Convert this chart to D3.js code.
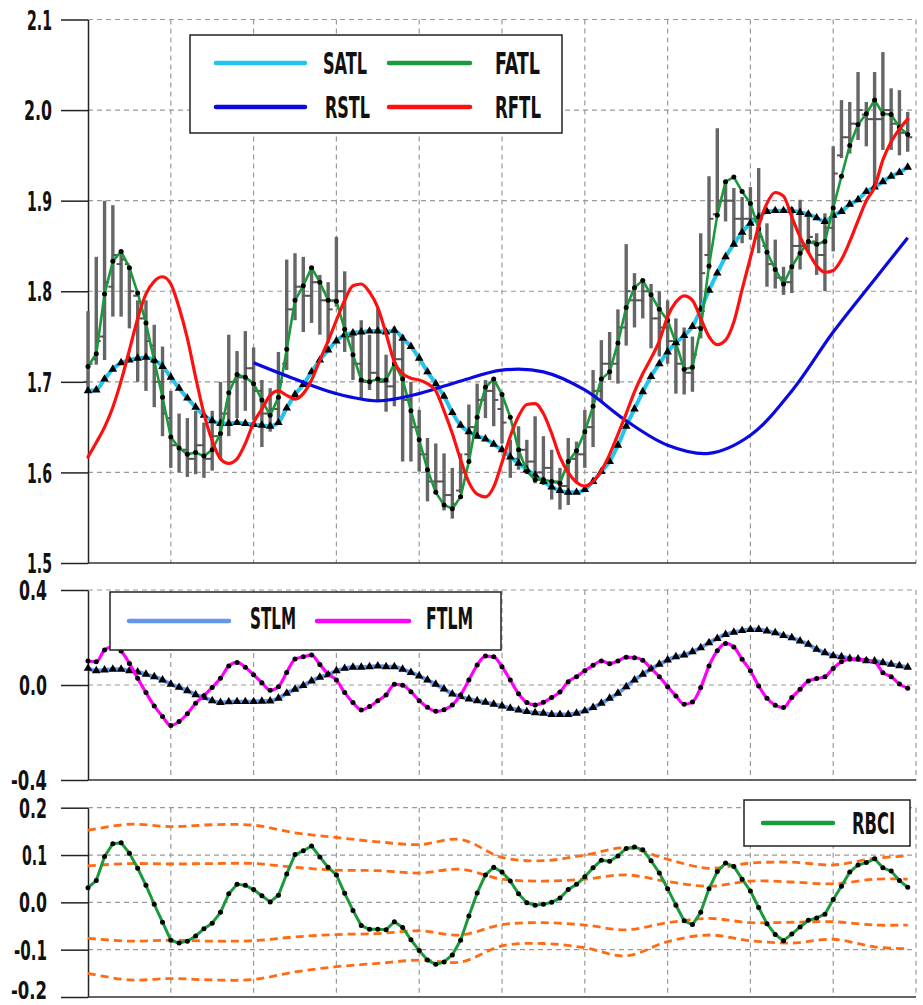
<!DOCTYPE html>
<html><head><meta charset="utf-8">
<script src="https://cdn.jsdelivr.net/npm/d3@7"></script>
<style>body{margin:0;background:#fff}svg{display:block}</style>
</head><body><svg id="c" width="923" height="1005"></svg>
<script>
// ---------- DATA ----------
const N = 100; // bars 0..99
const high = [1.778,1.838,1.900,1.895,1.844,1.825,1.790,1.790,1.763,1.739,1.690,1.665,1.660,1.668,1.655,1.668,1.700,1.752,1.734,1.756,
1.738,1.702,1.693,1.733,1.835,1.842,1.838,1.827,1.818,1.810,1.860,1.822,1.757,1.768,1.752,1.781,1.730,1.761,1.752,1.700,
1.669,1.638,1.632,1.621,1.605,1.621,1.675,1.698,1.702,1.704,1.686,1.636,1.651,1.636,1.662,1.640,1.625,1.605,1.638,1.634,
1.669,1.713,1.746,1.755,1.780,1.852,1.820,1.812,1.808,1.800,1.790,1.770,1.760,1.750,1.864,1.927,1.980,1.923,1.914,1.904,
1.915,1.936,1.875,1.857,1.827,1.893,1.901,1.886,1.864,1.886,1.960,2.011,2.009,2.042,2.009,2.042,2.064,2.024,2.022,1.998];
const low = [1.688,1.719,1.724,1.772,1.772,1.759,1.700,1.690,1.672,1.640,1.605,1.600,1.595,1.598,1.594,1.602,1.615,1.640,1.660,1.668,
1.658,1.628,1.645,1.658,1.713,1.768,1.755,1.765,1.752,1.743,1.783,1.733,1.702,1.680,1.691,1.680,1.667,1.673,1.612,1.612,
1.601,1.568,1.577,1.558,1.549,1.577,1.614,1.640,1.660,1.651,1.632,1.594,1.603,1.601,1.588,1.586,1.570,1.559,1.564,1.588,
1.605,1.628,1.678,1.702,1.698,1.740,1.760,1.770,1.737,1.728,1.720,1.687,1.686,1.689,1.748,1.824,1.882,1.877,1.849,1.853,
1.857,1.842,1.805,1.803,1.796,1.798,1.824,1.842,1.818,1.800,1.844,1.947,1.952,1.967,1.960,1.917,1.956,1.956,1.950,1.954];
const open = [1.700,1.725,1.750,1.805,1.830,1.830,1.795,1.770,1.740,1.700,1.660,1.630,1.625,1.615,1.630,1.615,1.640,1.665,1.700,1.705,
1.715,1.690,1.665,1.670,1.720,1.780,1.805,1.795,1.810,1.790,1.790,1.800,1.750,1.720,1.700,1.710,1.700,1.695,1.725,1.680,
1.650,1.620,1.590,1.590,1.575,1.580,1.620,1.650,1.680,1.690,1.670,1.620,1.615,1.625,1.612,1.600,1.605,1.590,1.585,1.615,
1.620,1.650,1.690,1.720,1.720,1.760,1.790,1.790,1.800,1.770,1.760,1.745,1.720,1.710,1.760,1.840,1.885,1.900,1.900,1.880,
1.880,1.880,1.850,1.830,1.815,1.810,1.850,1.850,1.855,1.840,1.870,1.950,1.970,1.985,1.995,1.990,1.990,2.000,1.985,1.975];
const close = [1.720,1.745,1.810,1.840,1.835,1.800,1.770,1.745,1.700,1.665,1.630,1.625,1.615,1.630,1.615,1.640,1.665,1.700,1.705,1.715,
1.690,1.665,1.670,1.700,1.780,1.805,1.795,1.810,1.790,1.780,1.800,1.750,1.720,1.700,1.710,1.700,1.695,1.725,1.680,1.650,
1.620,1.590,1.590,1.575,1.565,1.600,1.650,1.680,1.690,1.680,1.655,1.615,1.625,1.612,1.600,1.605,1.590,1.585,1.615,1.620,
1.650,1.690,1.720,1.720,1.760,1.800,1.790,1.800,1.770,1.760,1.745,1.720,1.710,1.730,1.820,1.880,1.900,1.900,1.880,1.880,
1.880,1.860,1.830,1.815,1.810,1.850,1.850,1.860,1.840,1.870,1.930,1.970,1.985,2.000,1.990,1.990,2.000,1.985,1.975,1.970];
const fatl = [1.717,1.731,1.797,1.833,1.844,1.826,1.798,1.765,1.723,1.683,1.639,1.627,1.620,1.622,1.618,1.625,1.643,1.688,1.708,1.705,
1.698,1.680,1.663,1.683,1.736,1.790,1.806,1.826,1.810,1.790,1.789,1.758,1.730,1.702,1.700,1.703,1.702,1.720,1.703,1.668,
1.636,1.603,1.578,1.564,1.560,1.573,1.612,1.661,1.694,1.703,1.686,1.661,1.625,1.601,1.592,1.592,1.590,1.588,1.612,1.624,
1.645,1.673,1.703,1.711,1.743,1.782,1.804,1.812,1.796,1.780,1.768,1.743,1.714,1.716,1.759,1.828,1.884,1.921,1.926,1.910,
1.897,1.869,1.843,1.824,1.808,1.827,1.842,1.855,1.852,1.855,1.892,1.927,1.961,1.984,1.996,2.011,1.996,1.995,1.981,1.973];
const satl = [1.690,1.691,1.703,1.714,1.721,1.724,1.726,1.727,1.724,1.717,1.705,1.693,1.682,1.672,1.663,1.657,1.654,1.654,1.655,1.654,
1.653,1.652,1.651,1.655,1.671,1.686,1.697,1.711,1.724,1.735,1.745,1.752,1.754,1.755,1.756,1.756,1.755,1.757,1.748,1.739,
1.726,1.711,1.698,1.684,1.666,1.652,1.645,1.640,1.637,1.631,1.625,1.617,1.610,1.603,1.597,1.590,1.584,1.580,1.578,1.578,
1.581,1.590,1.601,1.612,1.630,1.651,1.670,1.689,1.706,1.720,1.733,1.743,1.751,1.761,1.780,1.801,1.820,1.838,1.852,1.865,
1.875,1.882,1.888,1.889,1.889,1.889,1.887,1.885,1.881,1.877,1.884,1.888,1.896,1.901,1.910,1.915,1.921,1.927,1.931,1.937];
const rftl = [1.617,1.633,1.650,1.672,1.701,1.735,1.770,1.797,1.811,1.816,1.808,1.782,1.748,1.705,1.665,1.635,1.615,1.610,1.615,1.632,
1.655,1.670,1.685,1.690,1.685,1.681,1.687,1.702,1.724,1.745,1.768,1.790,1.806,1.808,1.799,1.782,1.753,1.722,1.709,1.704,
1.702,1.698,1.690,1.668,1.643,1.614,1.589,1.576,1.573,1.584,1.611,1.640,1.662,1.675,1.676,1.665,1.643,1.617,1.600,1.589,
1.585,1.590,1.602,1.620,1.642,1.665,1.689,1.709,1.726,1.745,1.772,1.788,1.795,1.790,1.770,1.750,1.741,1.746,1.766,1.802,
1.837,1.872,1.897,1.909,1.905,1.882,1.860,1.843,1.828,1.821,1.823,1.835,1.855,1.878,1.900,1.915,1.945,1.965,1.979,1.990];
const rstlIdx = [20,25,30,35,40,45,50,55,60,65,70,75,80,85,90,95,99];
const rstl = [1.721,1.703,1.687,1.679,1.687,1.701,1.713,1.711,1.691,1.657,1.630,1.621,1.641,1.690,1.755,1.813,1.859];
const stlm = [0.070,0.060,0.063,0.066,0.066,0.060,0.055,0.045,0.035,0.021,0.003,-0.010,-0.024,-0.041,-0.052,-0.066,-0.074,-0.071,-0.070,-0.070,
-0.070,-0.068,-0.067,-0.056,-0.035,-0.018,-0.002,0.017,0.033,0.043,0.060,0.070,0.075,0.075,0.077,0.080,0.077,0.077,0.066,0.053,
0.038,0.021,0.003,-0.017,-0.038,-0.049,-0.059,-0.066,-0.073,-0.081,-0.088,-0.098,-0.105,-0.112,-0.117,-0.119,-0.124,-0.124,-0.124,-0.119,
-0.109,-0.095,-0.077,-0.056,-0.035,-0.007,0.021,0.045,0.067,0.087,0.105,0.119,0.126,0.140,0.157,0.178,0.196,0.213,0.222,0.229,
0.234,0.234,0.227,0.220,0.208,0.199,0.185,0.171,0.150,0.136,0.123,0.119,0.112,0.110,0.102,0.101,0.094,0.087,0.081,0.075];
const ftlm = [0.101,0.098,0.147,0.161,0.143,0.091,0.028,-0.032,-0.088,-0.133,-0.171,-0.154,-0.121,-0.077,-0.045,-0.010,0.028,0.080,0.095,0.075,
0.043,0.010,-0.022,-0.007,0.053,0.109,0.119,0.126,0.086,0.046,0.021,-0.032,-0.074,-0.105,-0.091,-0.066,-0.042,0.003,-0.001,-0.028,
-0.066,-0.094,-0.111,-0.104,-0.084,-0.042,0.021,0.084,0.122,0.119,0.077,0.021,-0.037,-0.074,-0.084,-0.073,-0.053,-0.029,0.014,0.035,
0.060,0.083,0.101,0.090,0.101,0.117,0.115,0.104,0.070,0.035,-0.007,-0.046,-0.081,-0.072,-0.011,0.080,0.144,0.175,0.160,0.108,
0.060,-0.004,-0.056,-0.085,-0.095,-0.053,-0.018,0.017,0.027,0.035,0.070,0.098,0.108,0.108,0.105,0.098,0.052,0.035,0.004,-0.014];
const rbci = [0.031,0.046,0.097,0.124,0.126,0.104,0.072,0.036,-0.004,-0.042,-0.080,-0.086,-0.082,-0.071,-0.056,-0.044,-0.021,0.018,0.038,0.036,
0.027,0.014,0.001,0.015,0.060,0.101,0.109,0.119,0.096,0.074,0.058,0.019,-0.017,-0.049,-0.057,-0.057,-0.058,-0.041,-0.053,-0.079,
-0.102,-0.122,-0.131,-0.126,-0.111,-0.080,-0.029,0.020,0.058,0.074,0.064,0.045,0.018,-0.001,-0.006,-0.004,0.000,0.009,0.027,0.038,
0.054,0.073,0.089,0.087,0.098,0.114,0.117,0.111,0.088,0.062,0.029,-0.006,-0.039,-0.047,-0.021,0.029,0.065,0.083,0.076,0.049,
0.024,-0.011,-0.045,-0.068,-0.081,-0.067,-0.052,-0.038,-0.033,-0.025,0.006,0.034,0.064,0.079,0.084,0.092,0.073,0.066,0.046,0.032];
const bandIdx = [0,5,10,15,20,25,30,35,40,45,50,55,60,65,70,75,80,85,90,95,99];
const bandUpperOuter = [0.152,0.165,0.160,0.164,0.163,0.147,0.137,0.128,0.122,0.133,0.095,0.088,0.100,0.115,0.091,0.072,0.083,0.085,0.079,0.093,0.098];
const bandUpperInner = [0.077,0.082,0.081,0.082,0.082,0.074,0.068,0.067,0.062,0.070,0.049,0.045,0.049,0.058,0.044,0.034,0.045,0.043,0.039,0.049,0.049];
const bandLowerInner = [-0.076,-0.082,-0.080,-0.082,-0.081,-0.073,-0.068,-0.066,-0.060,-0.069,-0.047,-0.043,-0.048,-0.058,-0.043,-0.034,-0.043,-0.042,-0.041,-0.048,-0.048];
const bandLowerOuter = [-0.150,-0.164,-0.161,-0.164,-0.163,-0.147,-0.136,-0.129,-0.122,-0.126,-0.092,-0.087,-0.096,-0.113,-0.083,-0.069,-0.081,-0.086,-0.078,-0.094,-0.098];
const topTicks = [1.5,1.6,1.7,1.8,1.9,2.0,2.1];
const midTicks = [-0.4,0.0,0.4];
const botTicks = [-0.2,-0.1,0.0,0.1,0.2];
const xGridTicks = [10,20,30,40,50,60,70,80,90,100];

// ---------- DRAW ----------
const svg = d3.select('#c');
const FONT = "'DejaVu Sans Condensed','DejaVu Sans','Liberation Sans Narrow',sans-serif";
const X = d3.scaleLinear().domain([0,100]).range([88,916]);
const yTop = d3.scaleLinear().domain([1.5,2.1]).range([563,19.5]);
const yMid = d3.scaleLinear().domain([-0.4,0.4]).range([780,590]);
const yBot = d3.scaleLinear().domain([-0.2,0.2]).range([997,807.7]);
const fmt = d => d.toFixed(1);
const labelWidth = s => Array.from(s).reduce((w, c) => w + (c === '.' ? 5 : c === '-' ? 8 : c === '1' ? 8.5 : 11.5), 0);

function panel(y, ticks, pad, fs) {
  const [y0, y1] = y.range(); // bottom, top
  const g = svg.append('g');
  g.selectAll('.hg').data(ticks.filter(t => y(t) < y0 - 1)).enter().append('line')
    .attr('x1', X(0)).attr('x2', X(100)).attr('y1', d => y(d)).attr('y2', d => y(d))
    .attr('stroke', '#9a9a9a').attr('stroke-width', 1.2).attr('stroke-dasharray', '5,4');
  g.selectAll('.vg').data(xGridTicks).enter().append('line')
    .attr('x1', d => X(d)).attr('x2', d => X(d)).attr('y1', y1).attr('y2', y0)
    .attr('stroke', '#9a9a9a').attr('stroke-width', 1.2).attr('stroke-dasharray', '5,4');
  const ax = d3.axisLeft(y).tickValues(ticks).tickSize(27).tickSizeOuter(0).tickPadding(pad).tickFormat(fmt);
  const a = g.append('g').attr('transform', `translate(${X(0)},0)`).call(ax);
  a.select('.domain').attr('stroke', '#222').attr('stroke-width', 1.5);
  a.selectAll('.tick line').attr('stroke', '#222').attr('stroke-width', 1.5);
  a.selectAll('.tick text').attr('font-family', FONT).attr('font-weight', 'bold')
    .attr('font-size', fs).attr('fill', '#111').attr('dy', '0.36em')
    .attr('textLength', d => labelWidth(fmt(d))).attr('lengthAdjust', 'spacingAndGlyphs');
  g.append('line').attr('x1', X(0)).attr('x2', X(100)).attr('y1', y0).attr('y2', y0)
    .attr('stroke', '#333').attr('stroke-width', 1.5);
  return a;
}

panel(yTop, topTicks, 9, 27);
panel(yMid, midTicks, 14, 26);
const ab = panel(yBot, botTicks, 14, 26);
ab.selectAll('.tick text').filter(d => d === -0.2).attr('dy', '0.05em').attr('font-size', 24);

const idx = d3.range(N);

// ---- top panel ----
const gt = svg.append('g');
gt.selectAll('.bar').data(idx).enter().append('line')
  .attr('x1', i => X(i)).attr('x2', i => X(i)).attr('y1', i => yTop(high[i])).attr('y2', i => yTop(low[i]))
  .attr('stroke', '#666').attr('stroke-width', 3.4);
gt.selectAll('.op').data(idx).enter().append('line')
  .attr('x1', i => X(i) - 4.5).attr('x2', i => X(i)).attr('y1', i => yTop(open[i])).attr('y2', i => yTop(open[i]))
  .attr('stroke', '#555').attr('stroke-width', 2);
gt.selectAll('.cl').data(idx).enter().append('line')
  .attr('x1', i => X(i)).attr('x2', i => X(i) + 4.5).attr('y1', i => yTop(close[i])).attr('y2', i => yTop(close[i]))
  .attr('stroke', '#555').attr('stroke-width', 2);

const tri = d3.symbol().type(d3.symbolTriangle).size(32);
function series(g, y, vals, color, width, curve, marker) {
  const line = d3.line().x((d, i) => X(i)).y(d => y(d)).curve(curve);
  g.append('path').attr('d', line(vals)).attr('fill', 'none').attr('stroke', color)
    .attr('stroke-width', width).attr('stroke-linejoin', 'round').attr('stroke-linecap', 'round');
  if (marker === 'tri') {
    g.selectAll(null).data(vals).enter().append('path').attr('d', tri)
      .attr('transform', (d, i) => `translate(${X(i)},${y(d)})`).attr('fill', '#000');
  } else if (marker === 'dot') {
    g.selectAll(null).data(vals).enter().append('circle')
      .attr('cx', (d, i) => X(i)).attr('cy', d => y(d)).attr('r', 2.5).attr('fill', '#000');
  }
}
series(gt, yTop, satl, '#22c4ee', 4, d3.curveMonotoneX, 'tri');
series(gt, yTop, fatl, '#1b9a3c', 2.6, d3.curveLinear, 'dot');
const rstlLine = d3.line().x((d, k) => X(rstlIdx[k])).y(d => yTop(d)).curve(d3.curveCatmullRom);
gt.append('path').attr('d', rstlLine(rstl)).attr('fill', 'none').attr('stroke', '#0a0ae0').attr('stroke-width', 3.2);
series(gt, yTop, rftl, '#ff1010', 3.2, d3.curveMonotoneX, null);

// ---- middle panel ----
const gm = svg.append('g');
series(gm, yMid, stlm, '#6495ed', 4, d3.curveMonotoneX, 'tri');
series(gm, yMid, ftlm, '#ff00ff', 3.2, d3.curveMonotoneX, 'dot');

// ---- bottom panel ----
const gb = svg.append('g');
[bandUpperOuter, bandUpperInner, bandLowerInner, bandLowerOuter].forEach(b => {
  const l = d3.line().x((d, k) => X(bandIdx[k])).y(d => yBot(d)).curve(d3.curveCatmullRom);
  gb.append('path').attr('d', l(b)).attr('fill', 'none').attr('stroke', '#ff6a13')
    .attr('stroke-width', 2.8).attr('stroke-dasharray', '8,5');
});
series(gb, yBot, rbci, '#1b9a3c', 3, d3.curveLinear, 'dot');

// ---------- LEGENDS ----------
function legendBox(x, y, w, h) {
  svg.append('rect').attr('x', x).attr('y', y).attr('width', w).attr('height', h)
    .attr('fill', '#fff').attr('stroke', '#222').attr('stroke-width', 1.5);
}
function legendItem(x1, x2, ly, color, label, tx, tw, base) {
  svg.append('line').attr('x1', x1).attr('x2', x2).attr('y1', ly).attr('y2', ly)
    .attr('stroke', color).attr('stroke-width', 4.5).attr('stroke-linecap', 'round');
  svg.append('text').attr('x', tx).attr('y', base).text(label)
    .attr('font-family', FONT).attr('font-weight', 'bold').attr('font-size', 30).attr('fill', '#111')
    .attr('textLength', tw).attr('lengthAdjust', 'spacingAndGlyphs');
}
legendBox(190, 35, 372, 98);
legendItem(216, 305, 63, '#22c4ee', 'SATL', 323, 44, 74);
legendItem(389, 470, 63, '#1b9a3c', 'FATL', 495, 45, 74);
legendItem(216, 305, 107, '#0a0ae0', 'RSTL', 325, 45, 118);
legendItem(389, 470, 107, '#ff1010', 'RFTL', 495, 46, 118);

legendBox(110, 592, 391, 58);
legendItem(129, 229, 621, '#6495ed', 'STLM', 250, 46, 629);
legendItem(317, 409, 621, '#ff00ff', 'FTLM', 426, 47, 629);

legendBox(744, 800, 166, 46);
legendItem(763, 833, 823, '#1b9a3c', 'RBCI', 852, 43, 834);
</script></body></html>
